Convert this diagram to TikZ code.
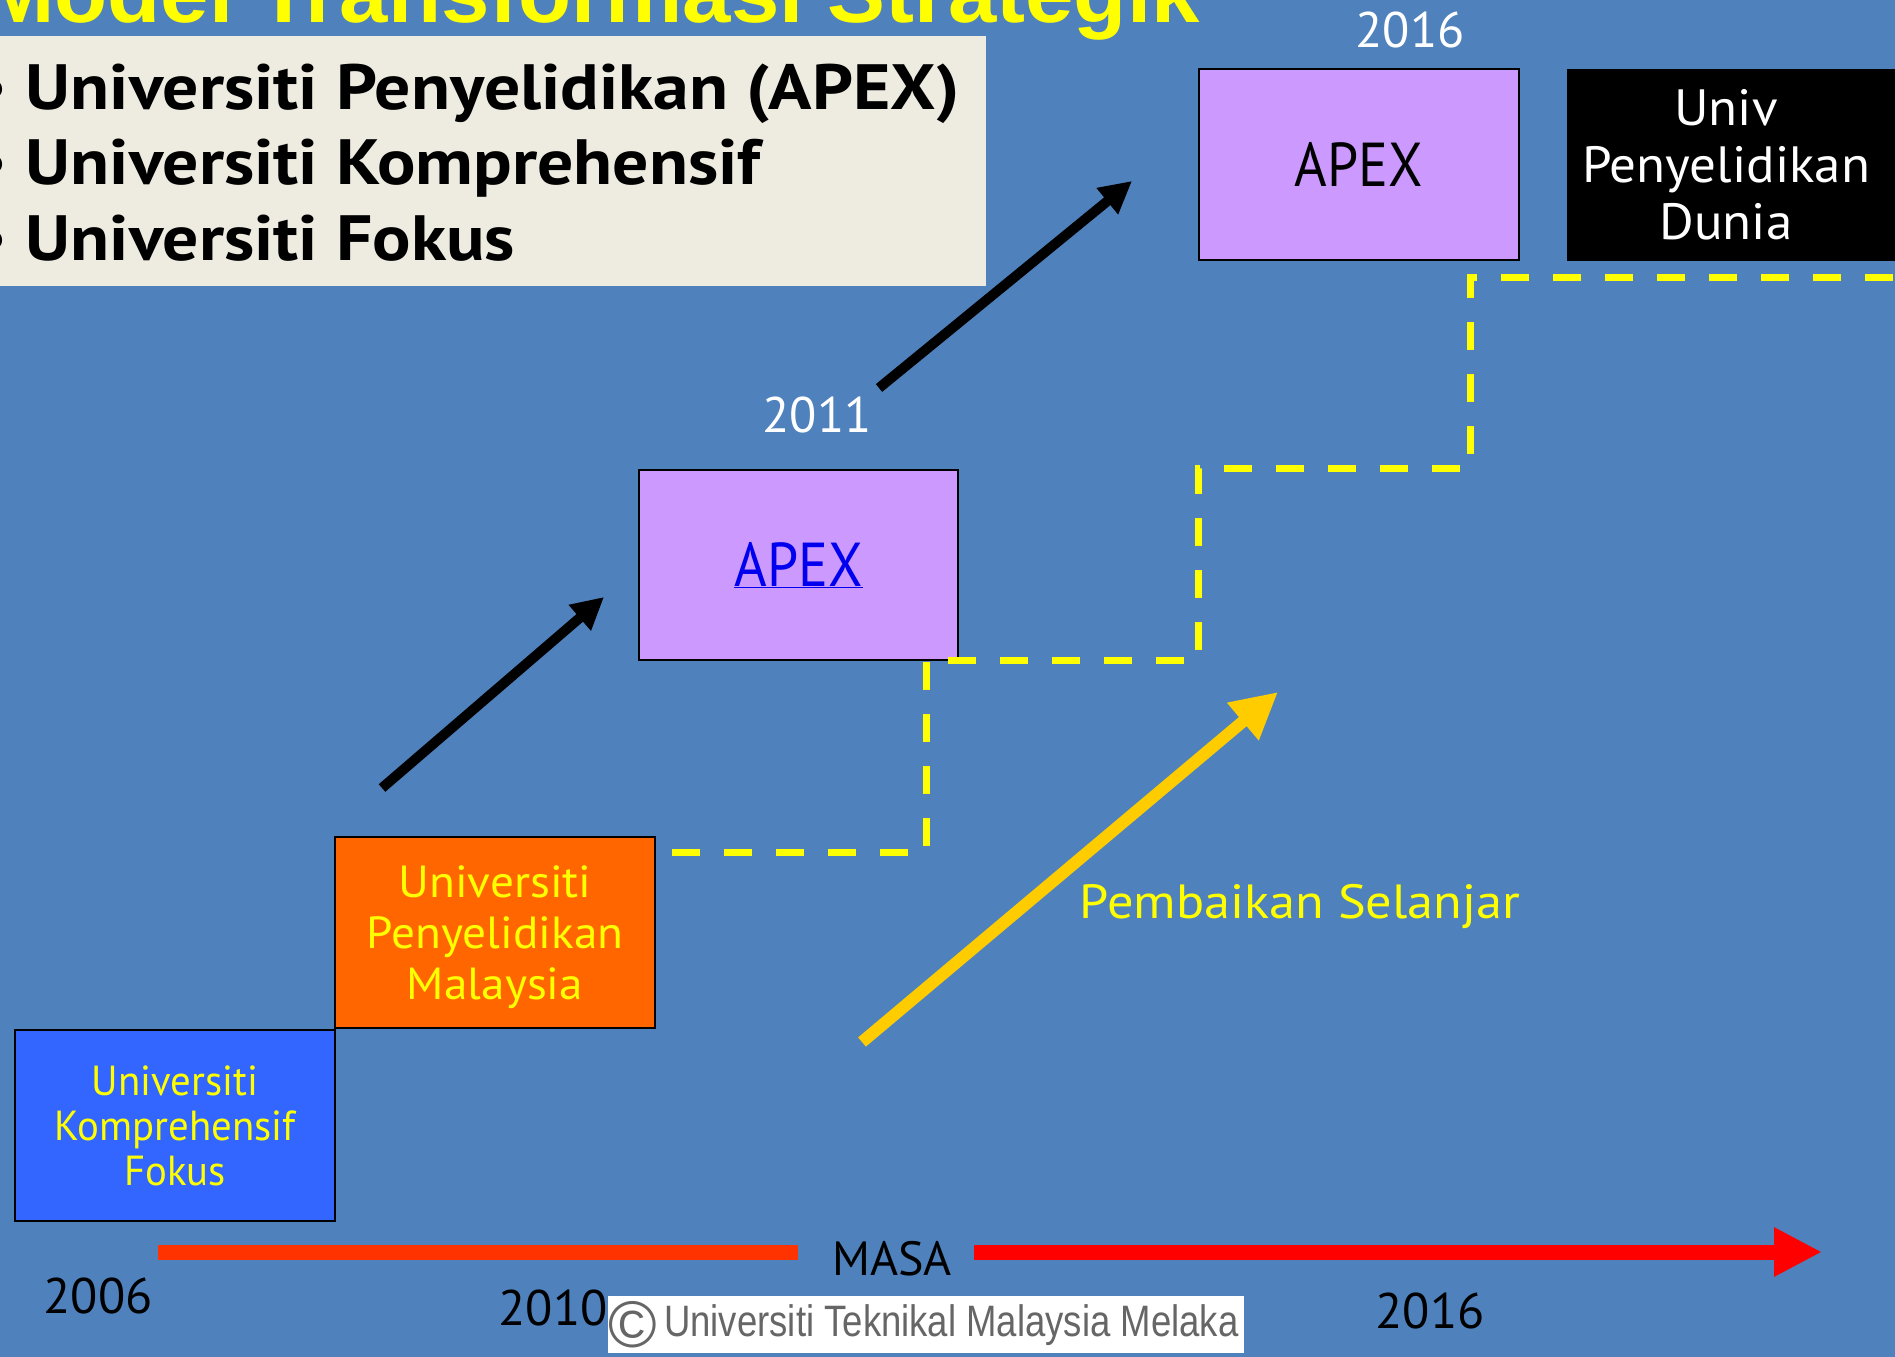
\documentclass[tikz,border=0pt]{standalone}
\usepackage{fontspec}
\setmainfont{PT Sans}
\newfontfamily\arialfont{Liberation Sans}
\usetikzlibrary{arrows.meta}
\definecolor{bgblue}{RGB}{79,129,189}
\definecolor{beige}{RGB}{238,236,225}
\definecolor{lilac}{RGB}{204,153,255}
\definecolor{orangebox}{RGB}{255,102,0}
\definecolor{bluebox}{RGB}{51,102,255}
\definecolor{ylw}{RGB}{255,255,0}
\definecolor{gold}{RGB}{255,204,0}
\definecolor{redA}{RGB}{255,51,0}
\definecolor{redB}{RGB}{255,0,0}
\definecolor{linkblue}{RGB}{0,0,238}
\begin{document}
\begin{tikzpicture}[x=1pt,y=-1pt,
  box/.style={draw=black,line width=2pt,anchor=north west,inner sep=0pt,align=center},
  year/.style={font=\fontsize{50}{60}\selectfont},
  blackarrow/.style={draw=black,line width=10pt,-{Triangle[length=32pt,width=32pt]}},
  dashpath/.style={draw=ylw,line width=7pt,dash pattern=on 28pt off 24pt},
  bullet/.style={anchor=base west,inner sep=0pt,font=\fontsize{64}{70}\selectfont\bfseries,xscale=1.12}
]
\useasboundingbox (0,0) rectangle (1895,1357);
\fill[bgblue] (0,0) rectangle (1895,1357);

% title
\node[anchor=base west,inner sep=0pt,text=ylw,font=\arialfont\fontsize{84}{90}\selectfont\bfseries,xscale=1.035] (title) at (-18,23) {Model Transformasi Strategik};

% beige list box
\fill[beige] (0,36) rectangle (986,286);
\node[bullet] (b1) at (-25,109) {• Universiti Penyelidikan (APEX)};
\node[bullet] (b2) at (-25,184) {• Universiti Komprehensif};
\node[bullet] (b3) at (-25,260) {• Universiti Fokus};

% boxes
\node[box,fill=bluebox,minimum width=320pt,minimum height=191pt] (uk) at (14,1029) {};
\node[text=ylw,align=center,font=\fontsize{42}{45}\selectfont,xscale=0.97] (uktxt) at (uk.center) {Universiti\\Komprehensif\\Fokus};
\node[box,fill=orangebox,minimum width=320pt,minimum height=191pt] (upm) at (334,836) {};
\node[text=ylw,align=center,font=\fontsize{45}{51}\selectfont,xscale=1.05,yshift=-5pt] (upmtxt) at (upm.center) {Universiti\\Penyelidikan\\Malaysia};
\node[box,fill=lilac,minimum width=319pt,minimum height=190pt] (apex1) at (638,469) {};
\node[font=\fontsize{62}{70}\selectfont,xscale=0.9] (apex1txt) at (apex1.center) {\textcolor{linkblue}{\underline{APEX}}};
\node[box,fill=lilac,minimum width=320pt,minimum height=191pt] (apex2) at (1198,68) {};
\node[font=\fontsize{62}{70}\selectfont,xscale=0.9] (apex2txt) at (apex2.center) {APEX};
\node[box,draw=none,fill=black,minimum width=340pt,minimum height=192pt] (dunia) at (1566,68) {};
\node[text=white,align=center,font=\fontsize{51}{57}\selectfont,xscale=1.04] (duniatxt) at (1726,165) {Univ\\Penyelidikan\\Dunia};

% years
\node[year,text=white] (y2011) at (817,415) {2011};
\node[year,text=white] (y2016t) at (1410,30) {2016};
\node[year,text=black] (y2006) at (98,1296) {2006};
\node[year,text=black] (y2010) at (553,1308) {2010};
\node[year,text=black] (y2016b) at (1430,1311) {2016};

% black arrows
\coordinate (a1s) at (382,788);
\coordinate (a1e) at (604,597);
\coordinate (a2s) at (879,388);
\coordinate (a2e) at (1132,181);
\draw[blackarrow] (a1s) -- (a1e);
\draw[blackarrow] (a2s) -- (a2e);

% dashed staircase
\coordinate (d0) at (672,852);
\coordinate (d1) at (926,852);
\coordinate (d2) at (926,660);
\coordinate (d3) at (1198,660);
\coordinate (d4) at (1198,468);
\coordinate (d5) at (1470,468);
\coordinate (d6) at (1470,277);
\coordinate (d7) at (1895,277);
\draw[dashpath] (d0) -- (d1) -- (d2) -- (d3) -- (d4) -- (d5) -- (d6) -- (d7);

% gold arrow
\coordinate (gs) at (862,1042);
\coordinate (ge) at (1278,692);
\draw[gold,line width=12pt,-{Triangle[length=46pt,width=46pt]}] (gs) -- (ge);
\node[text=ylw,font=\fontsize{48}{52}\selectfont,xscale=1.09] (pemb) at (1300,906) {Pembaikan Selanjar};

% timeline
\coordinate (t0) at (158,1252);
\coordinate (t1) at (798,1252);
\coordinate (t2) at (974,1252);
\coordinate (t3) at (1822,1252);
\draw[redA,line width=15pt] (t0) -- (t1);
\draw[redB,line width=15pt,-{Triangle[length=48pt,width=46pt]}] (t2) -- (t3);
\node[text=black,font=\fontsize{48}{50}\selectfont] (masa) at (892,1259) {MASA};

% copyright
\node[anchor=north west,fill=white,minimum width=636pt,minimum height=57pt,inner sep=0pt] (cbox) at (608,1296) {};
\node[anchor=west,inner sep=0pt,text=black!60,font=\arialfont\fontsize{66}{66}\selectfont] (csym) at (608,1325) {©};
\node[anchor=west,inner sep=0pt,text=black!60,font=\arialfont\fontsize{44}{44}\selectfont,xscale=0.83] (ctext) at (664,1325) {Universiti Teknikal Malaysia Melaka};
\end{tikzpicture}
\end{document}
